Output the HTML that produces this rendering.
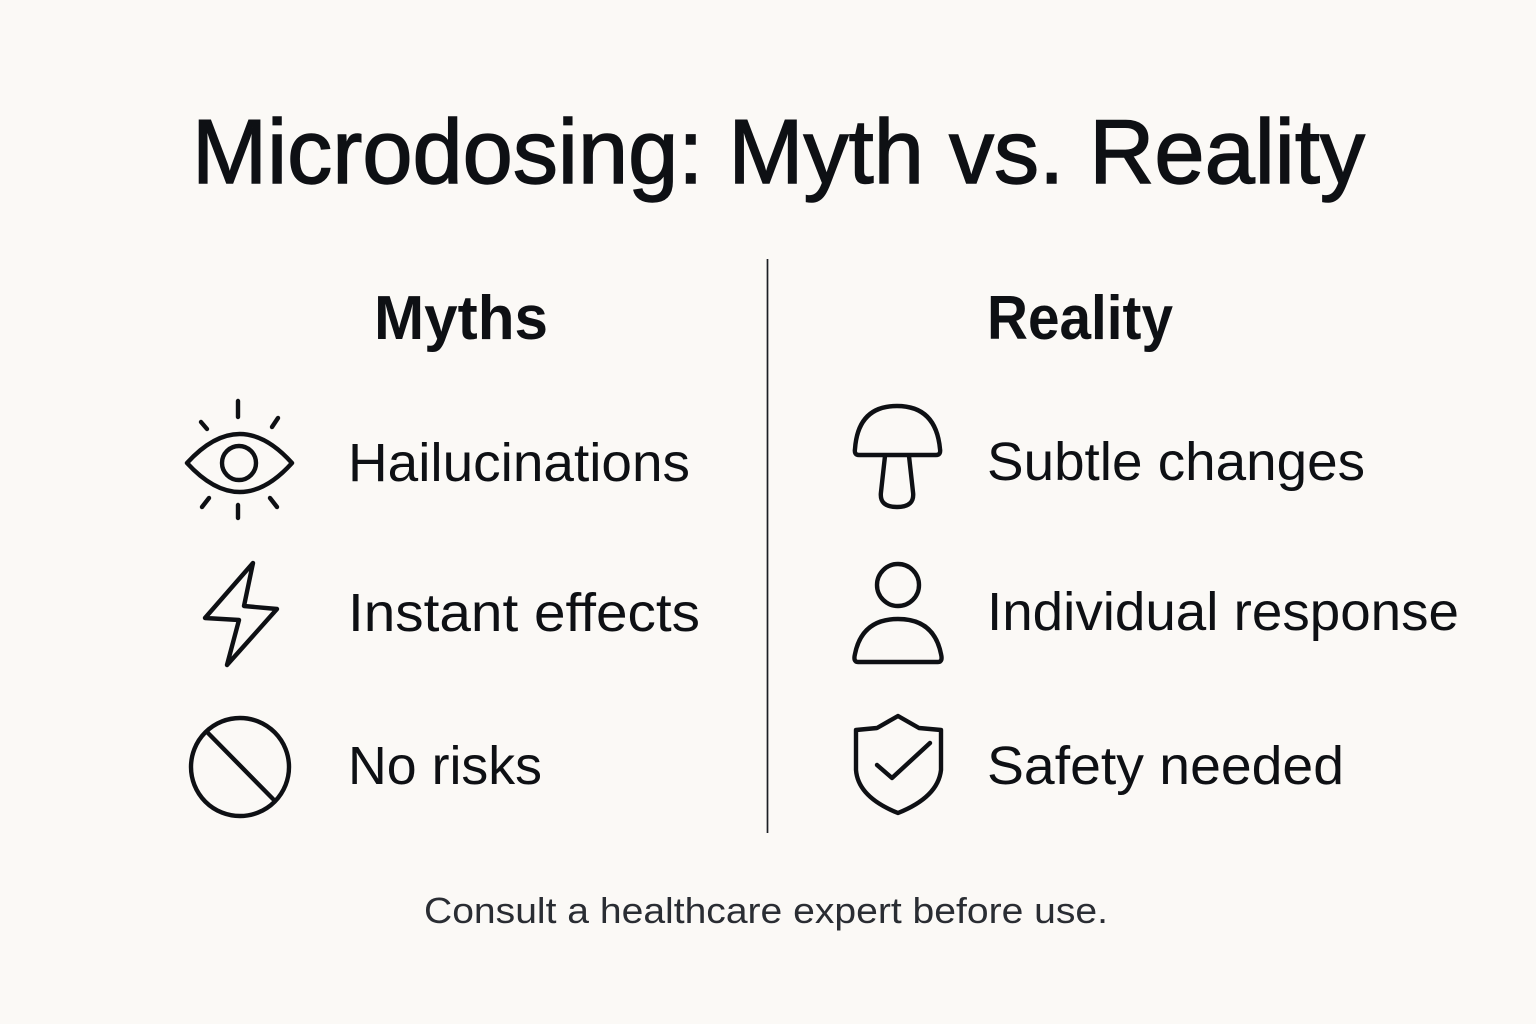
<!DOCTYPE html>
<html><head><meta charset="utf-8"><style>
html,body{margin:0;padding:0;background:#fbf9f6;}
svg{display:block;}
text{font-family:"Liberation Sans",Arial,sans-serif;fill:#0e1014;}
</style></head><body>
<svg width="1536" height="1024" viewBox="0 0 1536 1024" xmlns="http://www.w3.org/2000/svg">
<rect width="1536" height="1024" fill="#fbf9f6"/>
<text x="192" y="183" font-size="91" stroke="#0e1014" stroke-width="1.4" textLength="1173" lengthAdjust="spacingAndGlyphs">Microdosing: Myth vs. Reality</text>
<text x="374" y="339" font-size="62" font-weight="bold" textLength="174" lengthAdjust="spacingAndGlyphs">Myths</text>
<text x="987" y="339" font-size="62" font-weight="bold" textLength="186" lengthAdjust="spacingAndGlyphs">Reality</text>
<line x1="767.5" y1="259" x2="767.5" y2="833" stroke="#1c1f24" stroke-width="1.7"/>

<text x="348" y="481" font-size="54" textLength="342" lengthAdjust="spacingAndGlyphs">Hailucinations</text>
<text x="348" y="631" font-size="54" textLength="352" lengthAdjust="spacingAndGlyphs">Instant effects</text>
<text x="348" y="784" font-size="54" textLength="194" lengthAdjust="spacingAndGlyphs">No risks</text>
<text x="987" y="480" font-size="54" textLength="378" lengthAdjust="spacingAndGlyphs">Subtle changes</text>
<text x="987" y="630" font-size="54" textLength="472" lengthAdjust="spacingAndGlyphs">Individual response</text>
<text x="987" y="784" font-size="54" textLength="357" lengthAdjust="spacingAndGlyphs">Safety needed</text>
<text x="424" y="923" font-size="36" style="fill:#2a2d33" textLength="684" lengthAdjust="spacingAndGlyphs">Consult a healthcare expert before use.</text>

<g fill="none" stroke="#0e1014" stroke-width="4.4" stroke-linecap="round" stroke-linejoin="round">
  <path d="M187 463 Q240 405 292 463 Q240 521 187 463 Z"/>
  <circle cx="239" cy="463" r="17"/>
  <line x1="238" y1="401" x2="238" y2="417"/>
  <line x1="201" y1="422" x2="207" y2="429"/>
  <line x1="278" y1="418" x2="272" y2="427"/>
  <line x1="209" y1="498" x2="202" y2="507"/>
  <line x1="238" y1="505" x2="238" y2="518"/>
  <line x1="270" y1="498" x2="277" y2="507"/>
  <path d="M253 563 L205 618 L239 620 L227 665 L277 609 L244 606 Z"/>
  <circle cx="240" cy="767" r="49"/>
  <line x1="208" y1="733" x2="273" y2="799"/>
  <path d="M859 455 L936 455 Q941 455 940 449 Q936 406 897 406 Q858 406 855 449 Q854 455 859 455 Z"/>
  <path d="M885 456 L881 492 Q879 507 897 507 Q915 507 913 492 L909 456"/>
  <circle cx="898" cy="585" r="21"/>
  <path d="M858 662 L938 662 Q943 662 941 654 Q934 619 898 619 Q862 619 855 654 Q853 662 858 662 Z"/>
  <path d="M898 716 L919 728 L941 730 L941 770 Q938 797 898 813 Q858 797 856 770 L856 730 L877 728 Z"/>
  <path d="M877 765 L892 778 L930 743"/>
</g>
</svg>
</body></html>
